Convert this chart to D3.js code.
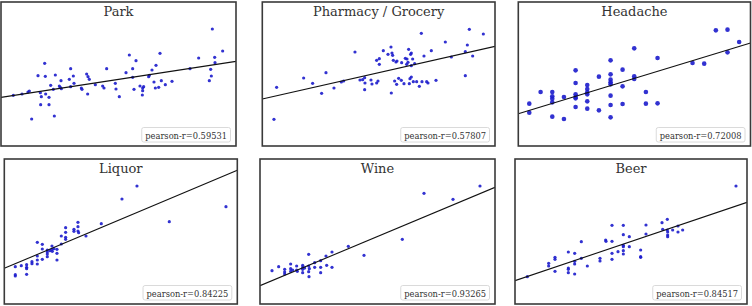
<!DOCTYPE html>
<html><head><meta charset="utf-8">
<script src="https://cdn.jsdelivr.net/npm/d3@7"></script>
<style>
html,body{margin:0;padding:0;background:#fff;}
svg{display:block;}
</style></head>
<body>
<svg id="chart" width="752" height="306"></svg>
<script>
// ---------------- data (arbitrary units) ----------------
const titles = ["Park", "Pharmacy / Grocery", "Headache", "Liquor", "Wine", "Beer"];
const pearsonR = ["0.59531", "0.57807", "0.72008", "0.84225", "0.93265", "0.84517"];

// axis limits (x max, y max) for each panel, min is 0
const xMax = [705, 698, 697, 699, 705, 696];
const yMax = [432, 432, 432, 435, 435, 435];

// fitted line: y at x = 0 and y at x = xMax
const fitY0 = [146, 141, 97, 107, 55, 70];
const fitY1 = [254, 299, 309, 401, 350, 305];

const parkX = [37,63,81,85,92,111,118,121,119,131,133,134,144,144,149,157,160,163,175,178,181,180,205,209,209,217,219,241,243,257,261,265,260,283,305,309,317,343,345,355,375,385,395,395,399,405,417,425,428,425,424,443,445,453,459,463,465,473,477,481,493,513,567,593,625,629,631,634,641,642,665];
const parkY = [152,156,162,165,81,211,160,148,124,248,209,156,146,124,182,170,90,213,180,176,172,196,200,232,178,210,188,174,170,216,208,200,156,184,180,174,232,188,171,148,220,273,232,206,170,256,180,174,178,166,153,208,212,228,192,174,242,176,278,196,184,194,232,264,196,230,210,351,266,250,285];

const pharmX = [35,43,124,151,178,191,215,237,244,278,293,301,307,308,307,326,329,343,347,343,351,351,363,377,386,389,391,387,393,401,404,397,403,409,417,418,425,429,434,433,437,439,445,447,443,447,441,451,447,453,457,463,471,477,479,485,493,497,507,521,549,567,609,609,615,621,631,663];
const pharmY = [80,176,204,188,158,220,174,192,195,282,198,199,205,189,169,198,186,189,195,257,262,245,286,275,297,279,272,159,257,252,255,195,185,203,197,250,187,263,261,245,251,290,275,279,202,207,187,261,241,193,247,193,179,338,193,270,193,189,286,197,312,267,211,283,303,350,270,336];

const headX = [33,33,67,102,102,102,102,102,137,137,172,172,172,172,172,172,207,207,207,207,207,207,242,242,277,277,277,277,277,277,277,277,313,313,313,348,348,348,383,383,418,418,523,558,593,628,628,663];
const headY = [127,100,162,162,149,142,131,88,147,81,227,189,155,147,143,117,183,171,161,155,134,112,208,107,257,215,199,191,185,151,123,86,229,179,126,293,209,201,162,127,264,128,249,247,347,349,281,312];

const liqX = [33,33,33,51,67,67,67,67,83,83,99,99,99,99,114,114,114,129,129,129,129,137,143,143,144,149,158,158,158,171,171,184,184,184,184,209,209,221,221,221,223,245,291,353,398,495,665];
const liqY = [112,88,84,115,118,110,106,89,127,121,185,144,132,120,179,165,134,162,156,150,142,160,174,164,158,166,164,152,132,204,180,229,215,200,194,224,218,245,232,219,214,204,241,315,354,247,292];

const wineX = [36,56,74,74,74,92,92,92,98,110,110,112,128,128,128,128,134,146,146,148,146,147,164,164,182,182,182,198,200,216,216,265,312,427,492,579,660];
const wineY = [100,112,104,96,90,120,106,98,102,114,102,98,116,110,104,94,108,149,114,106,97,82,124,110,130,110,94,144,116,156,110,173,146,194,332,314,354];

const beerX = [37,101,101,120,120,120,160,160,160,160,179,179,179,179,199,199,217,255,255,272,273,291,291,291,291,309,325,325,325,325,325,325,343,343,377,377,377,393,393,441,443,457,457,458,458,458,473,489,489,503,663];
const beerY = [82,122,114,140,134,98,156,108,104,94,152,128,120,90,187,137,114,137,129,192,188,236,188,152,134,157,236,208,176,172,160,150,202,172,162,142,140,237,210,244,224,254,222,216,207,202,222,234,216,222,354];

const seriesX = [parkX, pharmX, headX, liqX, wineX, beerX];
const seriesY = [parkY, pharmY, headY, liqY, wineY, beerY];

// ---------------- layout (pixels) ----------------
const boxes = [
  [1, 2, 236, 146],
  [262.3, 2, 495, 146],
  [518.3, 2, 750.5, 146],
  [4.3, 159, 237.3, 304],
  [260, 159, 495, 304],
  [515, 159, 747, 304]
];
const dotR = [1.6, 1.6, 2.3, 1.6, 1.6, 1.6];

const svg = d3.select("#chart");
const serif = "'DejaVu Serif', serif";

boxes.forEach((b, i) => {
  const [l, t, r, btm] = b;
  const x = d3.scaleLinear().domain([0, xMax[i]]).range([l, r]);
  const y = d3.scaleLinear().domain([0, yMax[i]]).range([btm, t]);

  const g = svg.append("g");
  const clipId = "clip" + i;
  g.append("clipPath").attr("id", clipId)
    .append("rect").attr("x", l).attr("y", t).attr("width", r - l).attr("height", btm - t);

  const inner = g.append("g").attr("clip-path", `url(#${clipId})`);

  inner.selectAll("circle")
    .data(seriesX[i].map((v, k) => [v, seriesY[i][k]]))
    .join("circle")
    .attr("cx", d => x(d[0]))
    .attr("cy", d => y(d[1]))
    .attr("r", dotR[i])
    .attr("fill", "#1c1ccc")
    .attr("fill-opacity", 0.9);

  const line = d3.line().x(d => x(d[0])).y(d => y(d[1]));
  inner.append("path")
    .attr("d", line([[0, fitY0[i]], [xMax[i], fitY1[i]]]))
    .attr("stroke", "#111")
    .attr("stroke-width", 1.1)
    .attr("fill", "none");

  // title
  g.append("text")
    .attr("x", (l + r) / 2)
    .attr("y", t + 13.5)
    .attr("text-anchor", "middle")
    .attr("font-family", serif)
    .attr("font-size", 13)
    .attr("fill", "#333")
    .text(titles[i]);

  // pearson label box
  const lbl = g.append("g");
  const txt = lbl.append("text")
    .attr("x", r - 9)
    .attr("y", btm - 7.5)
    .attr("text-anchor", "end")
    .attr("font-family", serif)
    .attr("font-size", 8.3)
    .attr("fill", "#333")
    .text("pearson-r=" + pearsonR[i]);
  const bb = txt.node().getBBox();
  lbl.insert("rect", "text")
    .attr("x", bb.x - 3.5)
    .attr("y", btm - 18.5)
    .attr("width", bb.width + 7)
    .attr("height", 14.5)
    .attr("rx", 2)
    .attr("fill", "#fff")
    .attr("fill-opacity", 0.85)
    .attr("stroke", "#d0d0d0")
    .attr("stroke-width", 0.8);

  // frame
  g.append("rect")
    .attr("x", l).attr("y", t)
    .attr("width", r - l).attr("height", btm - t)
    .attr("fill", "none")
    .attr("stroke", "#3a3a3a")
    .attr("stroke-width", 1.6);
});
</script>
</body></html>
